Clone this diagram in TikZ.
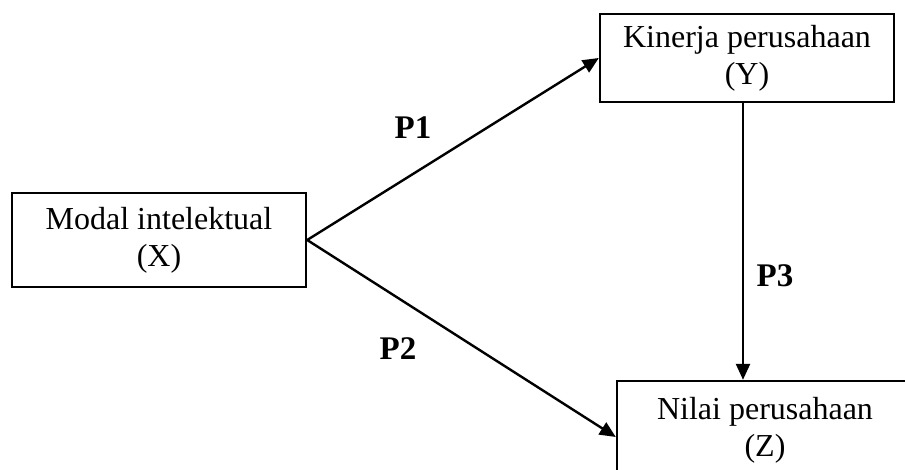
\documentclass[tikz,border=0pt]{standalone}
\usepackage{fontspec}
\setmainfont{Liberation Serif}
\usetikzlibrary{arrows.meta}
\begin{document}
\begin{tikzpicture}[x=1pt,y=-1pt,
  box/.style={draw,line width=2.4pt,align=center,inner sep=0pt,
    font=\fontsize{32}{37}\selectfont},
  conn/.style={line width=2.4pt,-{Triangle[length=16pt,width=14pt]}},
  plabel/.style={font=\fontsize{33}{38}\selectfont\bfseries}]
\clip (0,0) rectangle (905,470);
\useasboundingbox (0,0) rectangle (905,470);
\node[box,minimum width=294pt,minimum height=94pt] (X) at (159,240) {Modal intelektual\\(X)};
\node[box,minimum width=294pt,minimum height=88pt] (Y) at (747,58) {Kinerja perusahaan\\(Y)};
\node[box,minimum width=296pt,minimum height=98pt] (Z) at (765,430) {Nilai perusahaan\\(Z)};
\draw[conn] (X.east) -- (Y.west);
\draw[conn] (X.east) -- ([yshift=-7pt]Z.west);
\draw[conn] ([xshift=-4pt]Y.south) -- ([xshift=-4pt]Y.south |- Z.north);
\node[plabel] (p1) at (413,128) {P1};
\node[plabel] (p2) at (398,349) {P2};
\node[plabel] (p3) at (775,276) {P3};
\end{tikzpicture}
\end{document}
